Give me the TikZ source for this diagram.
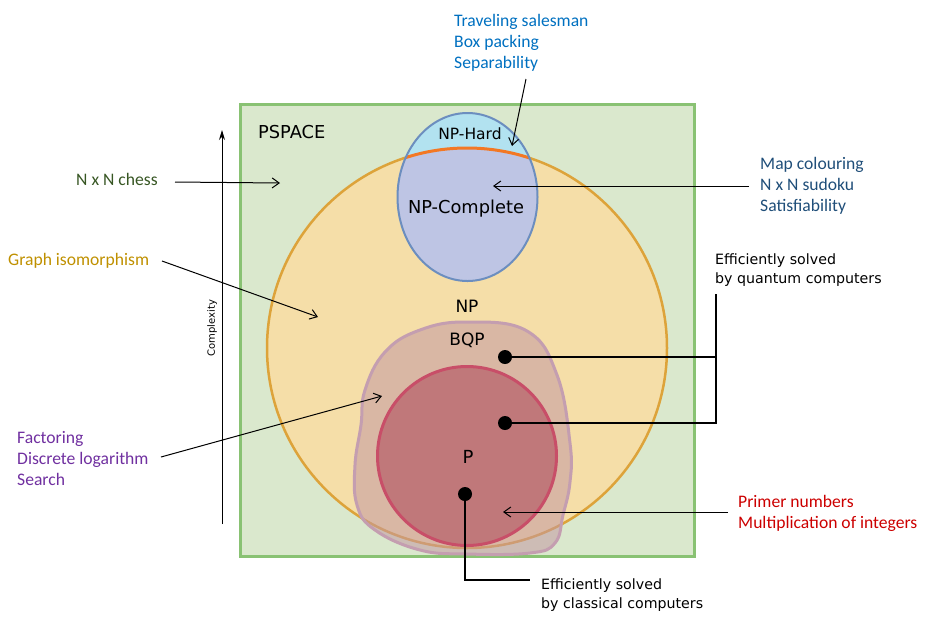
\documentclass[tikz,border=0pt]{standalone}
\usepackage{fontspec}
\setmainfont{DejaVu Sans}
\newfontfamily\labelfont{Carlito}
\usetikzlibrary{arrows.meta}

\definecolor{spacefill}{RGB}{218,232,205}
\definecolor{spaceedge}{RGB}{137,194,115}
\definecolor{npfill}{RGB}{245,222,168}
\definecolor{npedge}{RGB}{221,163,58}
\definecolor{hardfill}{RGB}{178,226,240}
\definecolor{completefill}{RGB}{190,197,228}
\definecolor{hardedge}{RGB}{108,142,191}
\definecolor{sepline}{RGB}{243,120,36}
\definecolor{bqpfill}{RGB}{195,152,162}
\definecolor{bqpedge}{RGB}{196,158,176}
\definecolor{pfill}{RGB}{192,120,122}
\definecolor{pedge}{RGB}{200,78,104}
\definecolor{hardtext}{RGB}{0,112,192}
\definecolor{completetext}{RGB}{31,78,121}
\definecolor{chesstext}{RGB}{55,86,35}
\definecolor{isotext}{RGB}{191,144,0}
\definecolor{bqptext}{RGB}{112,48,160}
\definecolor{ptext}{RGB}{204,0,0}

\begin{document}
\begin{tikzpicture}[x=1pt,y=-1pt,
    lbl/.style={anchor=base west,align=left,inner sep=0pt,font=\labelfont\fontsize{17.6}{21}\selectfont},
    note/.style={anchor=base west,align=left,inner sep=0pt,font=\fontsize{14.2}{19}\selectfont},
    cls/.style={anchor=base,inner sep=0pt,font=\fontsize{17}{20}\selectfont},
    pointer/.style={-{Straight Barb[length=7pt,width=10pt]},line width=1pt},
    dot/.style={circle,fill=black,inner sep=0pt,minimum size=14pt}]
  \useasboundingbox (0,0) rectangle (934,633);

  % classes
  \fill[spacefill] (240,104) rectangle (694,556);
  \draw[spaceedge,line width=3pt] (240,104) rectangle (694,556);
  \fill[npfill] (467,348) circle (200pt);
  \draw[npedge,line width=2.5pt] (467,348) circle (200pt);

  \fill[hardfill] (467.5,197) ellipse (70pt and 84pt);
  \begin{scope}
    \clip (467.5,197) ellipse (70pt and 84pt);
    \fill[completefill] (467,348) circle (200pt);
    \draw[sepline,line width=3pt] (467,348) circle (200pt);
  \end{scope}
  \draw[hardedge,line width=2pt] (467.5,197) ellipse (70pt and 84pt);

  \draw[bqpedge,line width=3pt,fill=bqpfill,fill opacity=0.55]
    plot[smooth cycle,tension=0.7] coordinates {(467,322) (527,331) (557,375) (570,443)
      (570,482) (563,515) (555,543) (530,553) (467,554) (420,550) (375,530) (357,505)
      (355,465) (361,425) (365,390) (385,352) (420,330)};
  \draw[pedge,line width=3pt,fill=pfill] (467,456) circle (89.5pt);

  \node[cls,font=\fontsize{17.8}{20}\selectfont,anchor=base west] (pspace) at (258,138) {PSPACE};
  \node[cls,font=\fontsize{15.5}{18}\selectfont] (hard) at (470,139) {NP-Hard};
  \node[cls,font=\fontsize{17.8}{20}\selectfont] (complete) at (466,213) {NP-Complete};
  \node[cls] (np) at (467,312) {NP};
  \node[cls] (bqp) at (467,345) {BQP};
  \node[cls,font=\fontsize{18}{20}\selectfont] (p) at (468,463) {P};

  % complexity axis
  \coordinate (axis-low) at (222,524); \coordinate (axis-high) at (222,130);
  \draw[-{Stealth[length=10pt,width=6pt]},line width=1pt] (axis-low) -- (axis-high);
  \node[rotate=90,font=\fontsize{10}{12}\selectfont] (cplx) at (212,328) {Complexity};

  % problems (base = last line)
  \node[lbl,text=hardtext] (travel) at (454,68) {Traveling salesman\\Box packing\\Separability};
  \node[lbl,text=completetext] (mapcol) at (760,211) {Map colouring\\N x N sudoku\\Satisfiability};
  \node[lbl,text=chesstext] (chess) at (76,185) {N x N chess};
  \node[lbl,text=isotext] (iso) at (8,265) {Graph isomorphism};
  \node[lbl,text=bqptext] (factor) at (17,485) {Factoring\\Discrete logarithm\\Search};
  \node[lbl,text=ptext] (primes) at (738,528) {Primer numbers\\Multiplication of integers};

  \coordinate (travel-tail) at (526,79);   \coordinate (travel-head) at (512,146);
  \coordinate (mapcol-tail) at (749,186);  \coordinate (mapcol-head) at (493,186);
  \coordinate (chess-tail) at (175,182);   \coordinate (chess-head) at (280,183);
  \coordinate (iso-tail) at (162,261);     \coordinate (iso-head) at (318,317);
  \coordinate (factor-tail) at (161,457);  \coordinate (factor-head) at (382,396);
  \coordinate (primes-tail) at (728,512);  \coordinate (primes-head) at (503,512);
  \foreach \n in {travel,mapcol,chess,iso,factor,primes}
    \draw[pointer] (\n-tail) -- (\n-head);

  % solvers
  \node[note] (quantum) at (715,283) {Efficiently solved\\by quantum computers};
  \node[note] (classical) at (541,608) {Efficiently solved\\by classical computers};
  \coordinate (qbar) at (716,294); \coordinate (cbar) at (530,580);
  \node[dot] (q1) at (505,357) {};
  \node[dot] (q2) at (505,423) {};
  \node[dot] (c1) at (465,494) {};
  \draw[line width=1.5pt] (q1.center) -- (q1 -| qbar);
  \draw[line width=1.5pt] (q2.center) -| (qbar);
  \draw[line width=1.5pt] (c1.center) |- (cbar);
\end{tikzpicture}
\end{document}
